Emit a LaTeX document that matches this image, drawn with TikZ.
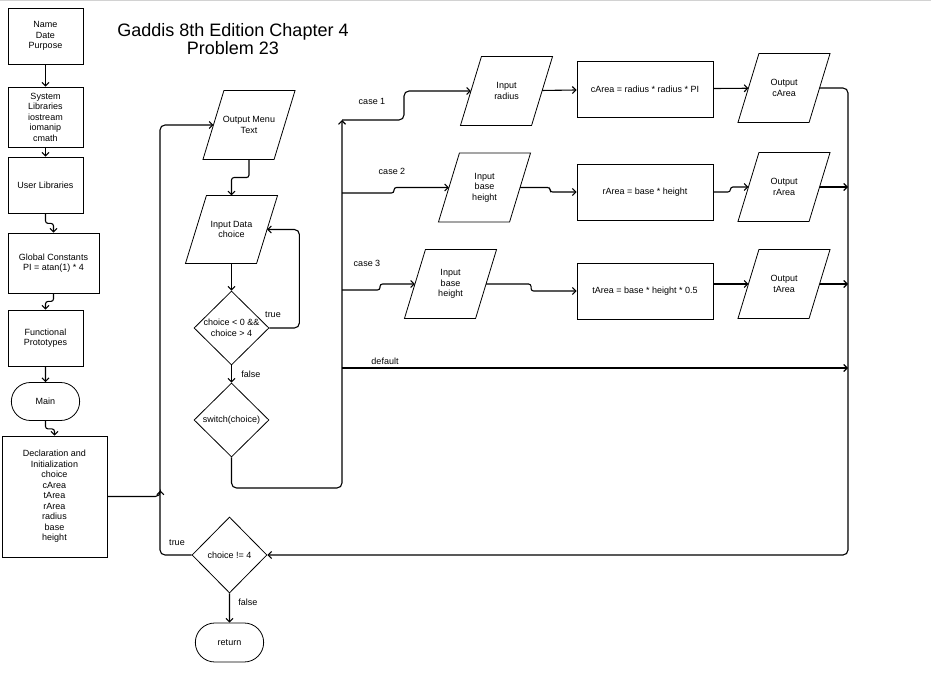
\documentclass[tikz,border=0pt]{standalone}
\usepackage{fontspec}
\setmainfont{Liberation Sans}
\usetikzlibrary{arrows.meta,shapes.geometric,shapes.misc}

\begin{document}
\begin{tikzpicture}[x=1pt,y=-1pt,->,>={Straight Barb[length=3.5pt,width=7pt]},
                    line width=1.1pt,font=\fontsize{9}{10.5}\selectfont,
                    box node/.style={rectangle,draw,line width=0.8pt,align=center,minimum width=75pt,minimum height=56pt,inner sep=1pt},
                    io node/.style={rectangle,align=center,minimum width=70pt,minimum height=68pt,inner sep=0pt,
                                    append after command={\pgfextra{\draw[-,line width=0.8pt]
                                      ([xshift=10.5pt]\tikzlastnode.north west) -- ([xshift=10.5pt]\tikzlastnode.north east)
                                      -- ([xshift=-10.5pt]\tikzlastnode.south east) -- ([xshift=-10.5pt]\tikzlastnode.south west) -- cycle;}}},
                    dec node/.style={diamond,draw,line width=0.8pt,align=center,minimum width=75pt,minimum height=74pt,inner sep=0pt},
                    end node/.style={rounded rectangle,draw,line width=0.8pt,minimum width=75pt,minimum height=38pt},
                    lbl/.style={font=\fontsize{9}{10}\selectfont},
                    jog/.style={rounded corners=2.5pt}
                   ]
  \useasboundingbox (0,0) rectangle (931,676);
  \draw[-,gray!35,line width=1pt] (0,1) -- (931,1);

  \node[align=center,font=\fontsize{18}{18}\selectfont] (title) at (233,39.5) {Gaddis 8th Edition Chapter 4\\Problem 23};

  % left column
  \node[box node] (name) at (45.5,36) {Name\\Date\\Purpose};
  \node[box node,minimum height=60pt] (syslib) at (45.5,117) {System\\Libraries\\iostream\\iomanip\\cmath};
  \node[box node] (usrlib) at (45.5,185) {User Libraries};
  \node[box node,minimum width=91pt,minimum height=60pt] (glob) at (53.5,263) {Global Constants\\PI = atan(1) * 4};
  \node[box node] (proto) at (45.5,338) {Functional\\Prototypes};
  \node[end node] (main) at (45.5,401.5) {Main};
  \node[box node,minimum width=105pt,minimum height=121pt] (decl) at (54.5,496.5)
       {Declaration and\\Initialization\\choice\\cArea\\tArea\\rArea\\radius\\base\\height};

  % menu loop
  \node[io node] (menu) at (249,125) {Output Menu\\Text};
  \node[io node,minimum height=67pt] (inchoice) at (231.5,229.5) {Input Data\\choice};
  \node[dec node] (check) at (231.5,328) {choice < 0 \&\&\\choice > 4};
  \node[dec node] (switch) at (231.5,420) {switch(choice)};
  \node[dec node,minimum height=76pt] (again) at (229.5,555) {choice != 4};
  \node[end node,minimum height=39pt] (ret) at (229.5,642.5) {return};

  % cases
  \node[io node] (inradius) at (506.5,91) {Input\\radius};
  \node[io node] (inbh) at (484.5,187.5) {Input\\base\\height};
  \node[io node] (inbh2) at (450.5,284) {Input\\base\\height};
  \node[box node,minimum width=136pt] (carea) at (645,89) {cArea = radius * radius * PI};
  \node[box node,minimum width=136pt] (rarea) at (645,192) {rArea = base * height};
  \node[box node,minimum width=136pt] (tarea) at (645,291) {tArea = base * height * 0.5};
  \node[io node] (outc) at (784,88) {Output\\cArea};
  \node[io node] (outr) at (784,187) {Output\\rArea};
  \node[io node] (outt) at (784,284) {Output\\tArea};

  \node[lbl] (case1 lbl) at (372,101) {case 1};
  \node[lbl] (case2 lbl) at (392,171) {case 2};
  \node[lbl] (case3 lbl) at (367,263) {case 3};
  \node[lbl] (dflt lbl) at (385,361) {default};
  \node[lbl] (true1 lbl) at (273,315) {true};
  \node[lbl] (true2 lbl) at (177,543) {true};

  \coordinate (loop top) at (160,125);
  \coordinate (sw corner) at (342,488);
  \coordinate (case1) at (342,120);
  \coordinate (case2) at (342,193);
  \coordinate (case3) at (342,290);
  \coordinate (dflt) at (342,368);
  \coordinate (rail) at (848,555);

  \path%
    (name) edge (syslib)
    (syslib) edge (usrlib)
    (proto) edge (main)
    (inchoice) edge (check)
    (check) edge node[lbl,right=6pt] {false} (switch)
    (again) edge node[lbl,right=5pt,pos=0.3] {false} (ret)
    (inradius) edge (carea)
    (carea) edge (outc);

  \draw[jog] (usrlib.south) -- ++(0,10) -| (glob.north);
  \draw[jog] (glob.south) -- ++(0,8) -| (proto.north);
  \draw[jog] (main.south) -- ++(0,8) -| (decl.north);
  \draw[jog] (menu.south) -- ++(0,18) -| (inchoice.north);

  \draw[rounded corners=5pt] (decl.east) -| ++(53,-6);
  \draw[rounded corners=5pt] (again.west) -| (loop top) -- (menu.west);
  \draw[rounded corners=5pt] (check.east) -- ++(30,0) |- (inchoice.east);
  \draw[rounded corners=5pt] (switch.south) |- (sw corner) -- (case1);

  \draw[rounded corners=5pt] (case1) -- ++(62,0) |- (inradius.west);
  \draw[jog] (case2) -- ++(52,0) |- (inbh.west);
  \draw[jog] (case3) -- ++(38,0) |- (inbh2.west);
  \draw (dflt) -- (dflt -| rail);

  \draw[jog] (inbh.east) -- ++(30,0) |- (rarea.west);
  \draw[jog] (inbh2.east) -- ++(45,0) |- (tarea.west);
  \draw[jog] (rarea.east) -- ++(17,0) |- (outr.west);
  \draw (tarea.east |- outt) -- (outt.west);

  \draw (outr.east) -- (outr.east -| rail);
  \draw (outt.east) -- (outt.east -| rail);
  \draw[rounded corners=5pt] (outc.east) -| (rail) -- (again.east);
\end{tikzpicture}
\end{document}
